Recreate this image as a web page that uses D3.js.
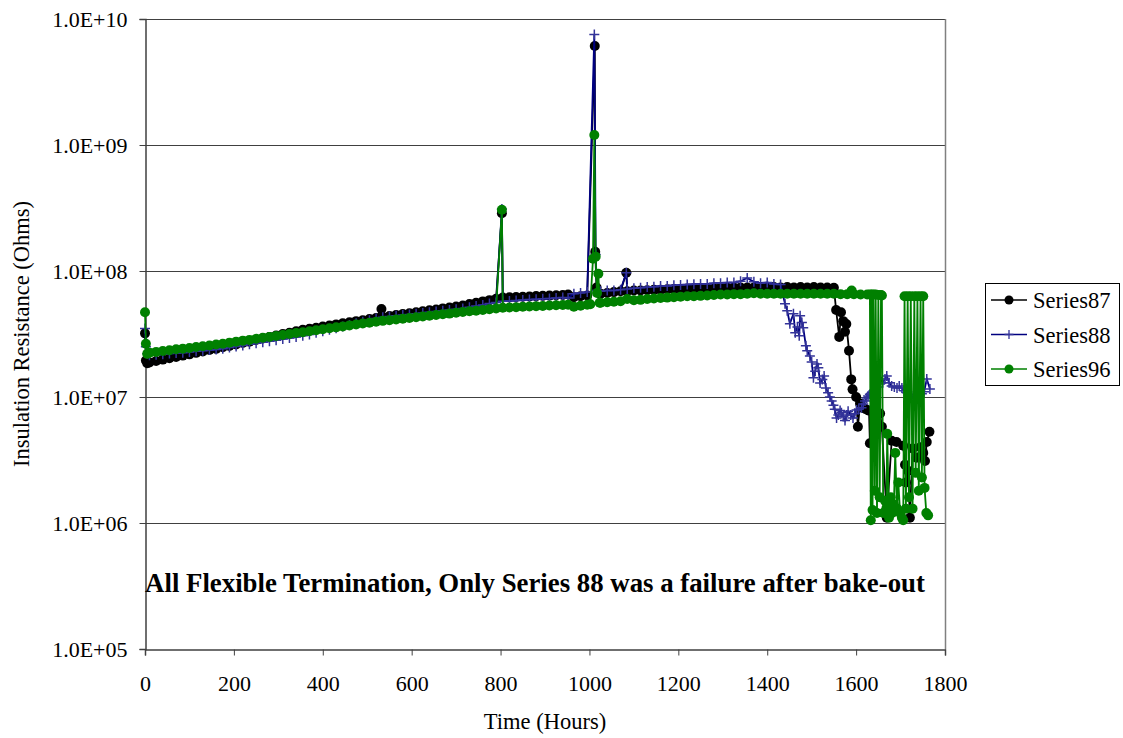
<!DOCTYPE html>
<html><head><meta charset="utf-8">
<script src="https://cdn.jsdelivr.net/npm/d3@7"></script>
<style>body{margin:0;background:#fff}</style></head>
<body>
<svg id="chart" width="1123" height="738"></svg>
<script>
// ---------------- DATA (values in units of 1e7 ohms) ----------------
const UNIT = 1e7;
const yTickValues = [1e5, 1e6, 1e7, 1e8, 1e9, 1e10];
const xTickValues = [0, 200, 400, 600, 800, 1000, 1200, 1400, 1600, 1800];
const seriesNames = ["Series87", "Series88", "Series96"];
const titleText = "All Flexible Termination, Only Series 88 was a failure after bake-out";
const xTitle = "Time (Hours)";
const yTitle = "Insulation Resistance (Ohms)";

// common sampling hours, first period (before the ~950 h break)
const hoursA = [10,25,40,55,70,85,100,115,130,145,160,175,190,205,220,235,250,265,280,295,310,325,340,355,370,385,400,415,430,445,460,475,490,505,520,535,550,565,580,595,610,625,640,655,670,685,700,715,730,745,760,775,790,805,820,835,850,865,880,895,910,925,940];
// common sampling hours, second period
const hoursB = [965,980,995,1025,1040,1055,1070,1085,1100,1115,1130,1145,1160,1175,1190,1205,1220,1235,1250,1265,1280,1295,1310,1325,1340,1355,1370,1385,1400,1415,1430,1445,1460,1475,1490,1505,1520,1535,1550];

const s87A = [1.88,1.93,1.98,2.03,2.08,2.13,2.18,2.24,2.30,2.36,2.41,2.48,2.54,2.61,2.69,2.75,2.83,2.91,2.99,3.07,3.16,3.24,3.33,3.41,3.48,3.55,3.62,3.69,3.77,3.85,3.92,4.00,4.07,4.16,4.24,4.32,4.40,4.47,4.55,4.62,4.71,4.79,4.88,4.95,5.05,5.13,5.22,5.33,5.47,5.60,5.74,5.87,6.03,6.17,6.19,6.22,6.25,6.28,6.32,6.35,6.38,6.41,6.46];
const s88A = [2.14,2.16,2.18,2.21,2.23,2.25,2.28,2.31,2.33,2.36,2.38,2.42,2.47,2.52,2.56,2.62,2.67,2.72,2.77,2.82,2.88,2.94,2.99,3.06,3.14,3.23,3.33,3.42,3.52,3.62,3.73,3.84,3.95,4.06,4.19,4.30,4.35,4.41,4.47,4.52,4.58,4.65,4.71,4.78,4.83,4.90,4.97,5.05,5.15,5.27,5.38,5.51,5.62,5.75,5.79,5.83,5.89,5.93,5.97,6.01,6.05,6.11,6.15];
const s96A = [2.25,2.28,2.32,2.35,2.39,2.42,2.45,2.49,2.53,2.56,2.61,2.65,2.70,2.75,2.80,2.84,2.90,2.95,3.00,3.05,3.11,3.16,3.22,3.27,3.33,3.39,3.45,3.51,3.57,3.63,3.70,3.76,3.83,3.89,3.96,4.02,4.07,4.13,4.18,4.24,4.30,4.36,4.42,4.48,4.53,4.59,4.66,4.72,4.79,4.84,4.91,4.98,5.04,5.11,5.14,5.16,5.20,5.22,5.26,5.28,5.32,5.35,5.38];

const s87B = [6.2,6.3,6.4,6.6,6.7,6.8,6.9,6.9,7.0,7.0,7.05,7.1,7.1,7.15,7.2,7.2,7.25,7.25,7.3,7.3,7.3,7.35,7.35,7.4,7.4,7.4,7.4,7.45,7.4,7.45,7.4,7.45,7.4,7.45,7.4,7.45,7.4,7.4,7.35];
const s88B = [6.6,6.7,6.8,6.9,7.0,7.0,7.1,7.2,7.3,7.35,7.45,7.5,7.6,7.6,7.7,7.75,7.8,7.85,7.9,7.9,8.0,8.0,8.1,8.1,8.3,8.8,8.2,8.0,8.1,7.9,7.8];
const s96B = [5.2,5.3,5.4,5.6,5.65,5.7,5.75,6.0,5.85,5.9,6.0,6.05,6.1,6.15,6.2,6.25,6.3,6.3,6.35,6.4,6.45,6.5,6.5,6.55,6.55,6.6,6.65,6.6,6.6,6.6,6.6,6.6,6.6,6.6,6.6,6.6,6.6,6.6,6.6];

// individual readings: start-up, spikes, break and end-of-test behaviour
const s87XHours = [0,2,5,532,803,952,1012,1013,1016,1083,1555,1562,1566,1571,1575,1578,1584,1589,1592,1600,1604,1609,1615,1622,1629,1631,1645,1649,1654,1658,1669,1680,1691,1706,1710,1712,1717,1721,1727,1736,1745,1751,1755,1759,1765];
const s87XValues = [3.2,1.95,1.85,5.0,28.7,6.5,610,14.2,7.4,9.7,4.9,3.0,4.7,4.0,3.3,3.8,2.33,1.38,1.15,1.0,0.58,0.89,0.82,0.80,0.78,0.43,1.6,1.36,0.74,0.58,0.11,0.45,0.44,0.41,0.29,0.21,0.26,0.11,0.39,0.33,0.40,0.36,0.31,0.44,0.53];

const s88XHours = [0,2,5,803,952,1011,1014,1017,1083,1440,1445,1451,1459,1463,1468,1472,1474,1478,1481,1487,1490,1496,1500,1504,1508,1512,1515,1519,1524,1528,1532,1537,1541,1545,1549,1552,1556,1560,1564,1567,1571,1575,1579,1582,1588,1593,1597,1601,1606,1612,1616,1620,1624,1627,1631,1635,1639,1643,1648,1654,1660,1665,1669,1674,1680,1686,1692,1697,1703,1708,1714,1720,1725,1731,1736,1742,1748,1753,1759,1766];
const s88XValues = [3.5,2.5,2.2,31,6.1,755,13.5,7.0,9.7,5.5,4.84,3.82,4.58,3.24,3.6,3.06,4.42,3.9,3.55,2.55,2.33,2.12,1.9,1.42,1.6,1.83,1.71,1.29,1.38,1.47,1.18,1.08,1.0,0.93,0.86,0.80,0.68,0.72,0.78,0.75,0.70,0.65,0.72,0.77,0.72,0.68,0.74,0.79,0.80,0.82,0.88,0.93,0.98,1.02,1.05,1.08,1.12,1.16,1.20,1.27,1.30,1.39,1.47,1.30,1.22,1.20,1.18,1.22,1.18,1.12,1.08,1.05,1.02,0.97,0.98,1.00,1.06,1.10,1.39,1.16];

const s96XHours = [0,2,5,803,952,1002,1008,1011,1014,1017,1020,1023,1565,1580,1590,1595,1610,1625,1631,1633,1635,1637,1639,1642,1644,1647,1650,1653,1656,1658,1661,1665,1668,1670,1674,1678,1681,1685,1688,1692,1695,1699,1703,1706,1709,1712,1716,1719,1723,1727,1731,1734,1738,1741,1745,1748,1751,1754,1758,1762];
const s96XValues = [4.7,2.65,2.2,30.6,5.4,5.45,12.5,120,13.0,6.7,9.5,5.6,6.55,6.55,7.0,6.55,6.5,6.5,6.5,0.105,6.5,0.127,6.5,0.18,6.5,0.12,6.45,0.16,6.45,6.4,0.12,0.15,0.13,0.51,0.11,0.16,0.12,0.14,0.36,0.13,0.21,0.12,0.11,0.105,6.3,0.13,6.3,0.16,6.3,0.13,6.3,0.25,6.3,0.18,6.3,0.23,6.3,0.19,0.12,0.115];

// ---------------- BUILD ----------------
function build(hA, vA, hB, vB, hX, vX) {
  const pts = [];
  vA.forEach((v, i) => pts.push({h: hA[i], v: v * UNIT}));
  vB.forEach((v, i) => pts.push({h: hB[i], v: v * UNIT}));
  vX.forEach((v, i) => pts.push({h: hX[i], v: v * UNIT}));
  return pts.sort((a, b) => a.h - b.h);
}
const series = [
  {name: seriesNames[0], line: "#000000", mark: "#000000", shape: "circle",
   pts: build(hoursA, s87A, hoursB, s87B, s87XHours, s87XValues)},
  {name: seriesNames[1], line: "#000080", mark: "#333399", shape: "plus",
   pts: build(hoursA, s88A, hoursB, s88B, s88XHours, s88XValues)},
  {name: seriesNames[2], line: "#008000", mark: "#008000", shape: "circle",
   pts: build(hoursA, s96A, hoursB, s96B, s96XHours, s96XValues)}
];

// ---------------- DRAW ----------------
const FONT = "'Liberation Serif','Times New Roman',Times,serif";
const svg = d3.select("#chart").style("font-family", FONT);
const L = 145, R = 945, T = 19, B = 649;
const x = d3.scaleLinear().domain([0, 1800]).range([L, R]);
const y = d3.scaleLog().domain([1e5, 1e10]).range([B, T]);

svg.append("rect").attr("width", 1123).attr("height", 738).attr("fill", "#fff");

// gridlines
svg.append("g").selectAll("line").data(yTickValues.slice(1)).join("line")
  .attr("x1", L).attr("x2", R)
  .attr("y1", d => Math.round(y(d)) + 0.5).attr("y2", d => Math.round(y(d)) + 0.5)
  .attr("stroke", "#404040").attr("stroke-width", 1);
// right border of plot area
svg.append("line").attr("x1", R + 0.5).attr("x2", R + 0.5).attr("y1", T).attr("y2", B)
  .attr("stroke", "#808080").attr("stroke-width", 1.5);

// axes
const yAxis = d3.axisLeft(y).tickValues(yTickValues).tickSize(6).tickPadding(12)
  .tickFormat(d => "1.0E+" + String(Math.round(Math.log10(d))).padStart(2, "0"));
const gy = svg.append("g").attr("transform", `translate(${L + 0.5},0)`).call(yAxis);
gy.selectAll("text").style("font-size", "22px").attr("fill", "#000").style("font-family", FONT);
gy.select(".domain").attr("stroke", "#404040").attr("stroke-width", 1.5);
gy.selectAll(".tick line").attr("stroke", "#404040");
gy.selectAll(".tick").attr("transform", d => `translate(0,${Math.round(y(d)) + 0.5})`);

const xAxis = d3.axisBottom(x).tickValues(xTickValues).tickSize(6).tickPadding(20).tickFormat(d3.format("d"));
const gx = svg.append("g").attr("transform", `translate(0,${B + 0.5})`).call(xAxis);
gx.selectAll("text").style("font-size", "22px").attr("fill", "#000").style("font-family", FONT);
gx.select(".domain").attr("stroke", "#404040").attr("stroke-width", 1.5);
gx.selectAll(".tick line").attr("stroke", "#404040");

// series
const lineGen = d3.line().x(d => x(d.h)).y(d => y(d.v));
const plusPath = "M-5,0H5M0,-5V5";
const R_MARK = 5;
series.forEach(s => {
  const g = svg.append("g");
  g.append("path").datum(s.pts).attr("d", lineGen)
    .attr("fill", "none").attr("stroke", s.line).attr("stroke-width", 1.8);
  if (s.shape === "circle") {
    g.selectAll("circle").data(s.pts).join("circle")
      .attr("cx", d => x(d.h)).attr("cy", d => y(d.v)).attr("r", R_MARK)
      .attr("fill", s.mark);
  } else {
    g.selectAll("path.m").data(s.pts).join("path").attr("class", "m")
      .attr("transform", d => `translate(${x(d.h)},${y(d.v)})`)
      .attr("d", plusPath).attr("stroke", s.mark).attr("stroke-width", 1.5).attr("fill", "none");
  }
});

// annotation
svg.append("text").attr("x", 535).attr("y", 592).attr("text-anchor", "middle")
  .style("font-size", "26.8px").style("font-weight", "bold").text(titleText);

// axis titles
svg.append("text").attr("x", 545).attr("y", 729).attr("text-anchor", "middle")
  .style("font-size", "22.5px").text(xTitle);
svg.append("text").attr("transform", "translate(29,334) rotate(-90)").attr("text-anchor", "middle")
  .style("font-size", "22.5px").text(yTitle);

// legend
const lg = svg.append("g");
lg.append("rect").attr("x", 985.5).attr("y", 283.5).attr("width", 134).attr("height", 102)
  .attr("fill", "#fff").attr("stroke", "#000").attr("stroke-width", 1);
series.forEach((s, i) => {
  const cy = 300 + i * 34.5;
  lg.append("line").attr("x1", 991).attr("x2", 1027).attr("y1", cy).attr("y2", cy)
    .attr("stroke", s.line).attr("stroke-width", 1.6);
  if (s.shape === "circle") {
    lg.append("circle").attr("cx", 1009).attr("cy", cy).attr("r", 4.5).attr("fill", s.mark);
  } else {
    lg.append("path").attr("transform", `translate(1009,${cy})`).attr("d", "M-4.5,0H4.5M0,-4.5V4.5")
      .attr("stroke", s.mark).attr("stroke-width", 1.3);
  }
  lg.append("text").attr("x", 1033).attr("y", cy + 8).style("font-size", "22.5px").text(s.name);
});
</script>
</body></html>
